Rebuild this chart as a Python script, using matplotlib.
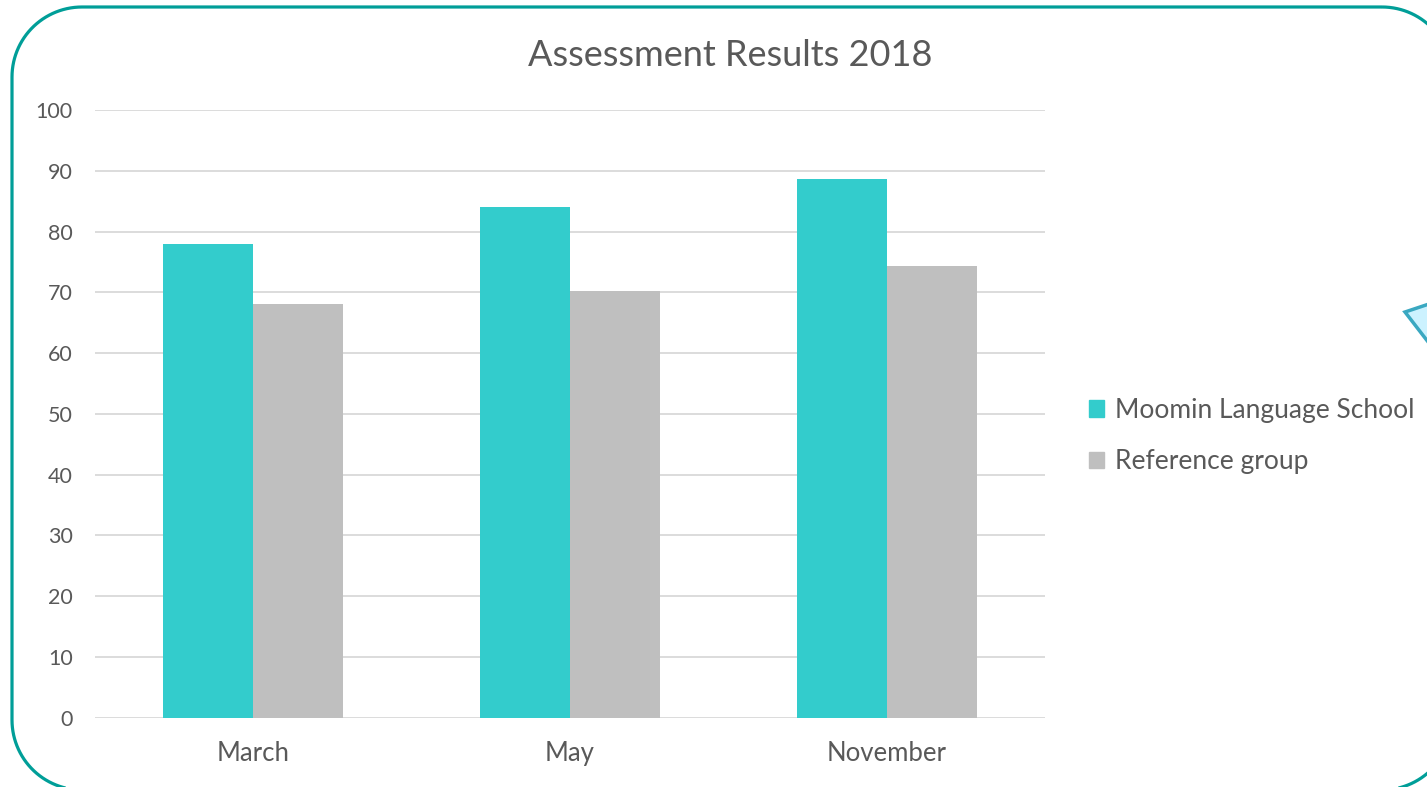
import matplotlib.pyplot as plt
import numpy as np
from matplotlib.patches import Polygon, Patch

# data
months = ["March", "May", "November"]
moomin = [78, 84, 88.6]
reference = [68, 70.2, 74.3]
series_names = ["Moomin Language School", "Reference group"]
yticks = list(range(0, 101, 10))

teal = "#33CCCC"
grey = "#BFBFBF"
txt = "#595959"

plt.rcParams['font.family'] = ['Lato', 'DejaVu Sans']

fig = plt.figure(figsize=(14.27, 7.87), dpi=100)
ax = fig.add_axes([95 / 1427, 69.3 / 787, 950 / 1427, 607.7 / 787])

x = np.arange(len(months))
w = 0.284
ax.bar(x - w / 2, moomin, width=w, color=teal, zorder=3)
ax.bar(x + w / 2, reference, width=w, color=grey, zorder=3)

ax.set_xlim(-0.5, 2.5)
ax.set_ylim(0, 100)
ax.set_yticks(yticks)
ax.set_xticks(x, months)
ax.grid(axis="y", color="#D9D9D9", linewidth=1.3, zorder=0)
for s in ax.spines.values():
    s.set_visible(False)
ax.tick_params(length=0, colors=txt)
ax.tick_params(axis="y", pad=16, labelsize=15.5)
ax.tick_params(axis="x", pad=17, labelsize=18.5)

fig.text(730 / 1427, 1 - 55 / 787, "Assessment Results 2018", ha="center", va="center",
         fontsize=26, color=txt)

handles = [Patch(color=teal), Patch(color=grey)]
ax.legend(handles, series_names, loc="center left",
          bbox_to_anchor=(1089 / 1427, 1 - 436 / 787), bbox_transform=fig.transFigure,
          frameon=False, fontsize=19, labelcolor=txt, handlelength=0.57, handleheight=0.57,
          handletextpad=0.4, labelspacing=1.0, borderpad=0, borderaxespad=0)

# rounded frame around the chart, in pixels (origin top-left), partly off the canvas
def rounded_rect(x0, y0, x1, y1, r, n=30):
    pts = []
    corners = [(x1 - r, y0 + r, -90, 0), (x1 - r, y1 - r, 0, 90),
               (x0 + r, y1 - r, 90, 180), (x0 + r, y0 + r, 180, 270)]
    for cx, cy, a0, a1 in corners:
        t = np.radians(np.linspace(a0, a1, n))
        pts += list(zip(cx + r * np.cos(t), cy + r * np.sin(t)))
    return [(px / 100, (787 - py) / 100) for px, py in pts]

frame = Polygon(rounded_rect(12, 7, 1452, 790, 70), closed=True,
                transform=fig.dpi_scale_trans, facecolor="none",
                edgecolor="#009E98", linewidth=2.3, zorder=10)
fig.patches.append(frame)

# bit of a callout shape peeking in at the right edge
callout = Polygon([(14.05, 4.75), (14.32, 4.84), (14.32, 4.40)], closed=True,
                  transform=fig.dpi_scale_trans, facecolor="#CCF2FF",
                  edgecolor="#3AA8C1", linewidth=2.5, zorder=10)
fig.patches.append(callout)

fig.savefig("out.png", dpi=100)
